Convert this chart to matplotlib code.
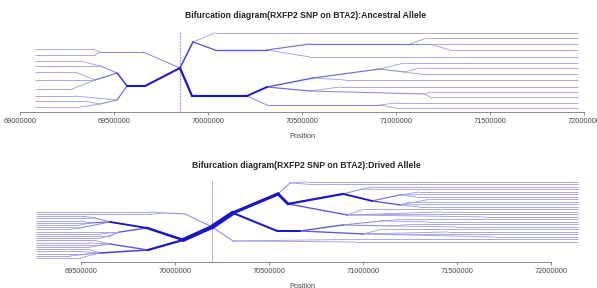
import numpy as np
import matplotlib
matplotlib.use("Agg")
import matplotlib.pyplot as plt
from matplotlib.colors import to_rgb

plt.rcParams['font.family'] = ['Liberation Sans', 'DejaVu Sans']

# ---- Ancestral allele (top panel) ----
anc_core = 69.851          # core SNP position, Mb
anc_left_end = 69.080
anc_right_end = 71.968
# tree nodes: position (Mb), level, parent index (-1 = core)
anc_left_pos = [69.851, 69.665, 69.569, 69.654, 69.426, 69.383, 69.399, 69.516, 69.516,
                69.426, 69.319, 69.277, 69.399, 69.293, 69.266, 69.277, 69.293, 69.426,
                69.346, 69.319]
anc_left_lvl = [68, 86, 86, 52, 52, 49, 55, 73, 100,
                66, 61, 66, 80, 72, 80, 89, 96, 104,
                101, 107]
anc_left_par = [-1, 0, 1, 0, 3, 4, 4, 2, 2,
                7, 9, 9, 7, 12, 12, 12, 8, 8,
                17, 17]

anc_right_pos = [69.851, 69.920, 70.037, 70.037, 70.314, 70.543, 71.074, 71.165, 71.181,
                 71.190, 71.287, 70.543, 69.915, 70.207, 70.314, 70.314, 70.558, 70.915,
                 71.043, 71.043, 71.128, 71.128, 70.729, 70.543, 70.702, 71.150, 71.181,
                 71.181, 70.915, 70.995, 70.995]
anc_right_lvl = [68, 42, 33, 50, 50, 44, 44, 38, 44,
                 44, 50, 57, 96, 96, 87, 105, 78, 69,
                 63, 72, 68, 74, 80, 91, 87, 94, 92,
                 97, 105, 103, 108]
anc_right_par = [-1, 0, 1, 1, 3, 4, 5, 6, 6,
                 8, 8, 4, 0, 12, 13, 13, 14, 16,
                 17, 17, 19, 19, 16, 14, 23, 23, 25,
                 25, 15, 28, 28]

# ---- Derived allele (bottom panel) ----
der_core = 70.197
der_left_end = 69.261
der_right_end = 72.144

der_left_pos = [70.197, 70.053, 69.936, 69.867, 69.867, 70.043, 69.851, 69.856, 69.654,
                69.574, 69.521, 69.521, 69.548, 69.495, 69.495, 69.495, 69.495, 69.440,
                69.440, 69.707, 69.654, 69.601, 69.654, 69.601, 69.654, 69.574, 69.548,
                69.601, 69.548, 69.601, 69.548, 69.495, 69.521, 69.440, 69.495]
der_left_lvl = [227, 214, 213, 212, 214.5, 240, 228, 250, 222,
                218, 216.5, 218.5, 223, 221, 223, 225, 228, 227.5,
                229.5, 232, 232, 234, 236, 238.5, 244, 240.5, 243,
                245, 247, 253, 249.5, 251.5, 254, 256, 258]
der_left_par = [-1, 0, 1, 2, 2, 0, 5, 5, 6,
                8, 9, 9, 8, 12, 12, 12, 8, 16,
                16, 6, 19, 19, 19, 19, 7, 24, 24,
                24, 24, 7, 29, 29, 29, 29, 29]

der_right_pos = [70.197, 70.308, 70.308, 70.931, 70.960, 70.548, 70.543, 70.612, 70.700,
                 70.720, 70.601, 70.894, 70.915, 71.048, 71.000, 71.197, 71.197, 70.665,
                 70.894, 71.100, 71.150, 71.000, 71.060, 71.080, 71.300, 71.460, 71.280,
                 71.350, 71.250, 71.420, 71.300, 71.000, 71.420, 71.200, 71.650, 71.200,
                 71.350, 71.250, 71.500, 71.100, 71.450, 71.200, 71.700]
der_right_lvl = [227, 213, 241, 239.5, 242, 194, 231, 183, 182,
                 184.5, 204, 194, 215, 201, 189, 195, 205, 231,
                 225, 221, 226, 234, 187, 189.5, 192, 194.5, 197,
                 199.5, 202, 204.5, 207, 209.5, 212, 214.5, 217, 219.5,
                 222, 224.5, 227, 229.5, 232, 234.5, 237]
der_right_par = [-1, 0, 0, 2, 2, 1, 1, 5, 7,
                 7, 5, 10, 10, 11, 11, 13, 13, 6,
                 17, 18, 18, 17, 14, 14, 15, 15, 15,
                 16, 16, 16, 16, 12, 12, 12, 12, 19,
                 19, 20, 20, 21, 21, 21, 21]

anc_ticks = [69.0, 69.5, 70.0, 70.5, 71.0, 71.5, 72.0]
anc_labels = ['69000000', '69500000', '70000000', '70500000', '71000000', '71500000', '72000000']
der_ticks = [69.5, 70.0, 70.5, 71.0, 71.5, 72.0]
der_labels = ['69500000', '70000000', '70500000', '71000000', '71500000', '72000000']

thin_col = np.array(to_rgb('#9c9ce8'))
thick_col = np.array(to_rgb('#1616cc'))


def width(n):
    return 0.5 + 0.12 * n


def colour(n):
    t = min((n - 1) / 6.0, 1.0)
    return tuple(thin_col + (thick_col - thin_col) * t)


def draw_tree(ax, pos, lvl, par, end):
    n = len(pos)
    count = [0] * n
    has_child = [False] * n
    for i in range(n):
        if par[i] >= 0:
            has_child[par[i]] = True
    for i in range(n):
        if not has_child[i]:
            count[i] = 1
    for i in range(n - 1, 0, -1):
        count[par[i]] += count[i]
    # thin lines first, thick ones on top
    for i in sorted(range(1, n), key=lambda k: count[k]):
        p = par[i]
        ax.plot([pos[p] * 1e6, pos[i] * 1e6], [lvl[p], lvl[i]], color=colour(count[i]),
                lw=width(count[i]), solid_capstyle='round')
        if not has_child[i]:
            ax.plot([pos[i] * 1e6, end * 1e6], [lvl[i], lvl[i]], color=colour(1),
                    lw=width(1), solid_capstyle='butt', zorder=1)


fig = plt.figure(figsize=(5.97, 2.88), dpi=100)

ax1 = fig.add_axes([20 / 597, 0.611, 564 / 597, 0.292])
ax1.plot([anc_core * 1e6] * 2, [112, 32], color='#8c8ce0', lw=0.8, ls=(0, (1.5, 1.2)), zorder=0)
draw_tree(ax1, anc_left_pos, anc_left_lvl, anc_left_par, anc_left_end)
draw_tree(ax1, anc_right_pos, anc_right_lvl, anc_right_par, anc_right_end)
ax1.set_xlim(69.0e6, 72.0e6)
ax1.set_ylim(112, 28)

ax2 = fig.add_axes([20 / 597, 0.0903, 564 / 597, 0.292])
ax2.plot([der_core * 1e6] * 2, [262, 181], color='#b4b4d0', lw=0.7, zorder=0)
draw_tree(ax2, der_left_pos, der_left_lvl, der_left_par, der_left_end)
draw_tree(ax2, der_right_pos, der_right_lvl, der_right_par, der_right_end)
ax2.set_xlim(69.1755e6, 72.1755e6)
ax2.set_ylim(262, 178)

for ax, ticks, labels in [(ax1, anc_ticks, anc_labels), (ax2, der_ticks, der_labels)]:
    for s in ['top', 'right', 'left']:
        ax.spines[s].set_visible(False)
    ax.spines['bottom'].set_bounds(ticks[0] * 1e6, ticks[-1] * 1e6)
    ax.spines['bottom'].set_color('#777777')
    ax.spines['bottom'].set_linewidth(0.6)
    ax.set_yticks([])
    ax.set_xticks([t * 1e6 for t in ticks])
    ax.set_xticklabels(labels, fontsize=5.3, color='#444444')
    ax.tick_params(axis='x', length=2.5, width=0.6, color='#777777', pad=1.5)
    ax.patch.set_alpha(0)

fig.text(306 / 597, 1 - 16 / 288, 'Bifurcation diagram(RXFP2 SNP on BTA2):Ancestral Allele',
         ha='center', va='center', fontsize=6.2, fontweight='bold', color='#222222')
fig.text(306 / 597, 1 - 166 / 288, 'Bifurcation diagram(RXFP2 SNP on BTA2):Drived Allele',
         ha='center', va='center', fontsize=6.2, fontweight='bold', color='#222222')
fig.text(302 / 597, 1 - 137 / 288, 'Position', ha='center', va='center', fontsize=5.3, color='#444444')
fig.text(302 / 597, 1 - 286 / 288, 'Position', ha='center', va='center', fontsize=5.3, color='#444444')

fig.savefig('out.png', dpi=100)
